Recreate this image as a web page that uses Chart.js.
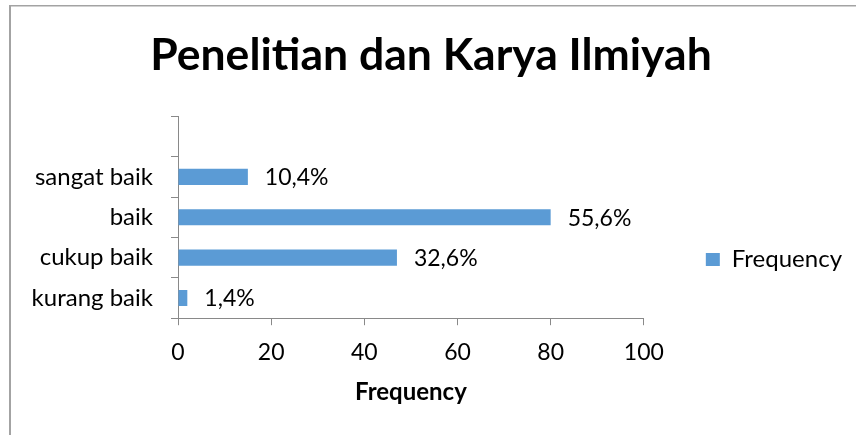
<!DOCTYPE html>
<html>
<head>
<meta charset="utf-8">
<script src="https://cdn.jsdelivr.net/npm/chart.js@4/dist/chart.umd.min.js"></script>
<style>
  html, body { margin: 0; padding: 0; background: #fff; }
  #wrap { position: relative; width: 856px; height: 435px; }
</style>
</head>
<body>
<div id="wrap"><canvas id="c" width="856" height="435"></canvas></div>
<script>
// ---- data ----
const categories = ['', 'sangat baik', 'baik', 'cukup baik', 'kurang baik'];
const frequency = [null, 15, 80, 47, 2];
const percentLabels = ['', '10,4%', '55,6%', '32,6%', '1,4%'];
const xTicks = [0, 20, 40, 60, 80, 100];
const chartTitle = 'Penelitian dan Karya Ilmiyah';
const seriesName = 'Frequency';
const xAxisTitle = 'Frequency';

const FONT = 'Lato';
const AXIS_COLOR = '#898989';
const BAR_COLOR = '#5B9BD5';

const framePlugin = {
  id: 'frame',
  beforeDraw(chart) {
    const ctx = chart.ctx;
    ctx.save();
    ctx.fillStyle = '#fff';
    ctx.fillRect(0, 0, chart.width, chart.height);
    ctx.fillStyle = '#a3a3a3';
    ctx.fillRect(9, 5, 2, chart.height - 5);
    ctx.fillRect(9, 5, chart.width - 9, 1.5);
    ctx.restore();
  }
};

const valueLabelPlugin = {
  id: 'valueLabels',
  afterDatasetsDraw(chart) {
    const ctx = chart.ctx;
    const meta = chart.getDatasetMeta(0);
    ctx.save();
    ctx.font = '23px ' + FONT;
    ctx.fillStyle = '#000';
    ctx.textAlign = 'left';
    ctx.textBaseline = 'middle';
    meta.data.forEach((bar, i) => {
      const txt = percentLabels[i];
      if (!txt) return;
      ctx.fillText(txt, bar.x + 17, bar.y + 1);
    });
    ctx.restore();
  }
};

new Chart(document.getElementById('c'), {
  type: 'bar',
  data: {
    labels: categories,
    datasets: [{
      label: seriesName,
      data: frequency,
      backgroundColor: BAR_COLOR,
      borderWidth: 0,
      categoryPercentage: 1.0,
      barPercentage: 0.4
    }]
  },
  options: {
    indexAxis: 'y',
    responsive: false,
    animation: false,
    devicePixelRatio: 1,
    layout: { padding: { left: 10, right: 4, top: 0, bottom: 27 } },
    font: { family: FONT },
    plugins: {
      title: {
        display: true,
        text: chartTitle,
        color: '#000',
        font: { family: FONT, size: 44.5, weight: 'bold', lineHeight: 1.2 },
        padding: { top: 29, bottom: 34 }
      },
      legend: {
        display: true,
        position: 'right',
        align: 'start',
        title: {
          display: true,
          text: '',
          font: { family: FONT, size: 10, lineHeight: 1 },
          padding: { top: 175.6, bottom: 0 }
        },
        labels: {
          color: '#000',
          font: { family: FONT, size: 24 },
          boxWidth: 14,
          boxHeight: 13,
          padding: 62
        }
      },
      tooltip: { enabled: false }
    },
    scales: {
      x: {
        min: 0,
        max: 100,
        afterBuildTicks(scale) { scale.ticks = xTicks.map(v => ({ value: v })); },
        grid: {
          display: true,
          drawOnChartArea: false,
          drawTicks: true,
          tickLength: 7,
          color: AXIS_COLOR
        },
        border: { display: true, color: AXIS_COLOR, width: 1 },
        ticks: {
          color: '#000',
          font: { family: FONT, size: 23, lineHeight: 1.2 },
          padding: 13.6,
          maxRotation: 0
        },
        title: {
          display: true,
          text: xAxisTitle,
          color: '#000',
          font: { family: FONT, size: 24, weight: 'bold', lineHeight: 1 },
          padding: { top: 0, bottom: 4 }
        }
      },
      y: {
        afterFit(scale) { scale.width = 168; },
        grid: {
          display: true,
          drawOnChartArea: false,
          drawTicks: true,
          tickLength: 7,
          offset: true,
          color: AXIS_COLOR
        },
        border: { display: true, color: AXIS_COLOR, width: 1 },
        ticks: {
          color: '#000',
          font: { family: FONT, size: 24 },
          padding: 18,
          autoSkip: false
        }
      }
    }
  },
  plugins: [framePlugin, valueLabelPlugin]
});
</script>
</body>
</html>
